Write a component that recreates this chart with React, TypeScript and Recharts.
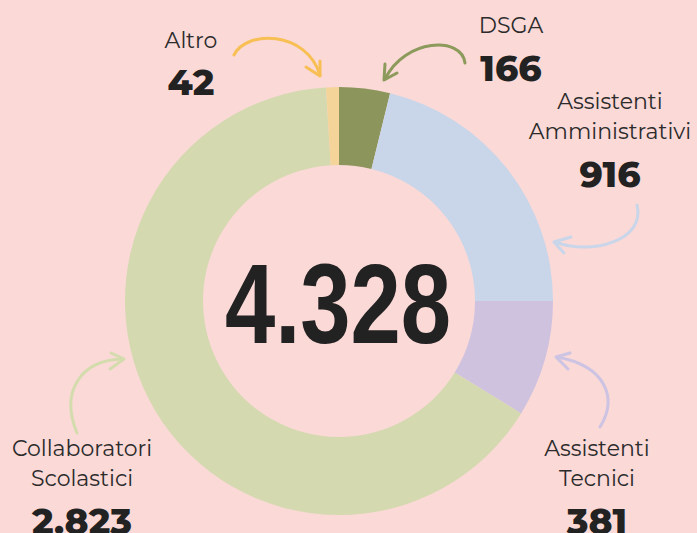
import React from 'react'
import { PieChart, Pie, Cell } from 'recharts'

const NAMES = ['DSGA', 'Assistenti Amministrativi', 'Assistenti Tecnici', 'Collaboratori Scolastici', 'Altro']
const VALUES = [166, 916, 381, 2823, 42]
const VALUE_LABELS = ['166', '916', '381', '2.823', '42']
const TOTAL_LABEL = '4.328'

const COLORS = ['#8c955c', '#c9d6ea', '#cfc2df', '#d4d9af', '#f5d49a']
const ARROW_COLORS = ['#8c9a5b', '#c9d6ea', '#cdc3e3', '#d4dcae', '#f8bf55']
const BG = '#fad9d7'
const TEXT = '#2b2b2b'

// label layout (center x, first baseline) and hand drawn arrows per slice
const LABEL_POS = [
  { x: 511, y: 33, lines: ['DSGA'], numY: 81 },
  { x: 610, y: 109, lines: ['Assistenti', 'Amministrativi'], numY: 187 },
  { x: 597, y: 456, lines: ['Assistenti', 'Tecnici'], numY: 534 },
  { x: 82, y: 456, lines: ['Collaboratori', 'Scolastici'], numY: 534 },
  { x: 191, y: 48, lines: ['Altro'], numY: 95 },
]
const ARROWS = [
  { curve: 'M465,63 C462,36 405,38 385,79', head: 'M385,64 L384,80 L397,73' },
  { curve: 'M637,205 C646,240 592,256 555,242', head: 'M571,237 L554,242 L564,253' },
  { curve: 'M600,427 C618,398 606,366 557,357', head: 'M570,353 L556,357 L568,369' },
  { curve: 'M77,433 C60,392 80,360 123,359', head: 'M111,353 L124,359 L110,369' },
  { curve: 'M234,55 C246,30 306,30 320,75', head: 'M306,67 L320,76 L320,61' },
]

const data = NAMES.map((name, i) => ({ name, value: VALUES[i] }))

const labelFont = '"Montserrat", "Open Sans", sans-serif'

export default function App() {
  return (
    <div style={{ position: 'absolute', left: 0, top: 0, width: 697, height: 533, background: BG, overflow: 'hidden' }}>
      <PieChart width={697} height={533} margin={{ top: 0, right: 0, bottom: 0, left: 0 }}>
        <Pie
          data={data}
          dataKey="value"
          nameKey="name"
          cx={339}
          cy={301}
          innerRadius={136}
          outerRadius={214}
          startAngle={90}
          endAngle={-270}
          stroke="none"
          isAnimationActive={false}
        >
          {data.map((_, i) => (
            <Cell key={i} fill={COLORS[i]} />
          ))}
        </Pie>
      </PieChart>
      <svg width={697} height={533} style={{ position: 'absolute', left: 0, top: 0 }}>
        {/* condensed look for the total: Liberation Sans bold squeezed horizontally */}
        <text
          transform="translate(338,343) scale(0.8,1)"
          x={0}
          y={0}
          textAnchor="middle"
          fill="#222"
          fontFamily='"Liberation Sans", Arial, sans-serif'
          fontWeight={700}
          fontSize={113}
        >
          {TOTAL_LABEL}
        </text>
        {ARROWS.map((a, i) => (
          <g key={i} fill="none" stroke={ARROW_COLORS[i]} strokeWidth={3} strokeLinecap="round" strokeLinejoin="round">
            <path d={a.curve} />
            <path d={a.head} />
          </g>
        ))}
        {LABEL_POS.map((p, i) => (
          <g key={i} textAnchor="middle">
            {p.lines.map((l, j) => (
              <text key={j} x={p.x} y={p.y + j * 30} fill={TEXT} fontFamily={labelFont} fontSize={22}>
                {l}
              </text>
            ))}
            <text x={p.x} y={p.numY} fill="#222" fontFamily={labelFont} fontWeight={800} fontSize={36}>
              {VALUE_LABELS[i]}
            </text>
          </g>
        ))}
      </svg>
    </div>
  )
}
